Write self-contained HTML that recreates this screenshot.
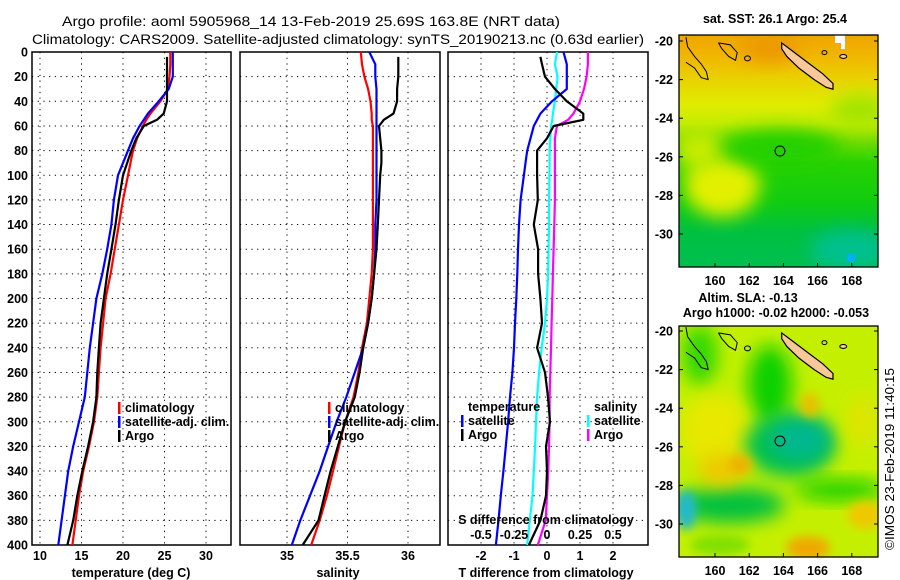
<!DOCTYPE html>
<html><head><meta charset="utf-8">
<style>
html,body{margin:0;padding:0;background:#fff;}
svg{display:block;font-family:"Liberation Sans",sans-serif;}
.tk{font-size:12.5px;font-weight:bold;fill:#000;}
.ttl{font-size:13.5px;fill:#000;}
.lg{font-size:12.5px;font-weight:bold;fill:#000;}
.grid{stroke:#000;stroke-width:1;stroke-dasharray:1.2 4.5;}
</style></head>
<body>
<svg id="chart" width="900" height="580" viewBox="0 0 900 580">
  <text class="ttl" x="62" y="26" textLength="498" lengthAdjust="spacingAndGlyphs">Argo profile: aoml 5905968_14 13-Feb-2019 25.69S 163.8E (NRT data)</text>
  <text class="ttl" x="32" y="44" textLength="612" lengthAdjust="spacingAndGlyphs">Climatology: CARS2009. Satellite-adjusted climatology: synTS_20190213.nc (0.63d earlier)</text>

  <g id="maps">
    <defs>
      <clipPath id="clip1"><rect x="679" y="35" width="199" height="232"/></clipPath>
      <clipPath id="clip2"><rect x="679" y="326" width="199" height="231"/></clipPath>
      <filter id="blur8" x="-50%" y="-50%" width="200%" height="200%"><feGaussianBlur stdDeviation="9"/></filter>
      <filter id="blur4" x="-50%" y="-50%" width="200%" height="200%"><feGaussianBlur stdDeviation="5"/></filter>
      <linearGradient id="sstg" x1="0" y1="0" x2="0" y2="1">
        <stop offset="0" stop-color="#f0a400"/>
        <stop offset="0.1" stop-color="#f0b800"/>
        <stop offset="0.2" stop-color="#e8d400"/>
        <stop offset="0.3" stop-color="#e0ec00"/>
        <stop offset="0.38" stop-color="#c4ec00"/>
        <stop offset="0.46" stop-color="#70dc00"/>
        <stop offset="0.55" stop-color="#28d200"/>
        <stop offset="0.72" stop-color="#10cc10"/>
        <stop offset="0.85" stop-color="#00c040"/>
        <stop offset="1" stop-color="#00bf50"/>
      </linearGradient>
    </defs>
    <g clip-path="url(#clip1)">
      <rect x="679" y="35" width="199" height="232" fill="url(#sstg)"/>
      <ellipse cx="722" cy="185" rx="38" ry="32" fill="#e2f000" filter="url(#blur8)"/>
      <ellipse cx="700" cy="150" rx="25" ry="20" fill="#c8ec00" filter="url(#blur8)"/>
      <ellipse cx="780" cy="148" rx="60" ry="18" fill="#20d000" filter="url(#blur8)"/>
      <ellipse cx="860" cy="110" rx="30" ry="15" fill="#a0e400" filter="url(#blur8)"/>
      <ellipse cx="770" cy="48" rx="30" ry="14" fill="#ec9800" filter="url(#blur8)"/>
      <ellipse cx="850" cy="250" rx="40" ry="20" fill="#00c090" filter="url(#blur8)"/>
      <rect x="847" y="254" width="8" height="8" fill="#00b0f0"/>
      <rect x="835" y="35" width="10" height="8" fill="#fff"/>
      <rect x="841" y="35" width="4" height="14" fill="#fff"/>
    </g>
    <g clip-path="url(#clip2)">
      <rect x="679" y="326" width="199" height="231" fill="#c4f000"/>
      <ellipse cx="770" cy="385" rx="22" ry="40" fill="#10d000" filter="url(#blur8)"/>
      <ellipse cx="700" cy="355" rx="18" ry="30" fill="#30d800" filter="url(#blur8)"/>
      <ellipse cx="715" cy="430" rx="35" ry="35" fill="#e8e800" filter="url(#blur8)"/>
      <ellipse cx="790" cy="445" rx="45" ry="32" fill="#00c050" filter="url(#blur8)"/>
      <ellipse cx="800" cy="440" rx="30" ry="20" fill="#00b890" filter="url(#blur8)"/>
      <ellipse cx="730" cy="505" rx="55" ry="18" fill="#00c040" filter="url(#blur8)"/>
      <ellipse cx="686" cy="510" rx="10" ry="20" fill="#20b8d0" filter="url(#blur4)"/>
      <ellipse cx="840" cy="490" rx="45" ry="10" fill="#10d000" filter="url(#blur8)"/>
      <ellipse cx="862" cy="420" rx="14" ry="26" fill="#e0e400" filter="url(#blur8)"/>
      <ellipse cx="720" cy="470" rx="22" ry="16" fill="#f0c800" filter="url(#blur8)"/>
      <ellipse cx="740" cy="465" rx="12" ry="10" fill="#f0b000" filter="url(#blur4)"/>
      <ellipse cx="808" cy="548" rx="22" ry="12" fill="#f0a800" filter="url(#blur4)"/>
      <ellipse cx="810" cy="405" rx="10" ry="12" fill="#e8c000" filter="url(#blur4)"/>
      <ellipse cx="865" cy="515" rx="18" ry="14" fill="#f0c800" filter="url(#blur4)"/>
      <ellipse cx="720" cy="545" rx="30" ry="10" fill="#80e000" filter="url(#blur4)"/>
    </g>
    <g id="coasts"></g>
    <rect x="679" y="35" width="199" height="232" fill="none" stroke="#000" stroke-width="1.3"/>
    <rect x="679" y="326" width="199" height="231" fill="none" stroke="#000" stroke-width="1.3"/>
    <text class="tk" x="775" y="23" text-anchor="middle">sat. SST: 26.1 Argo: 25.4</text>
    <text class="tk" x="748" y="302" text-anchor="middle">Altim. SLA: -0.13</text>
    <text class="tk" x="776" y="317" text-anchor="middle">Argo h1000: -0.02 h2000: -0.053</text>
    <text class="tk" transform="translate(894,550) rotate(-90)" style="font-weight:normal" textLength="182" lengthAdjust="spacingAndGlyphs">©IMOS 23-Feb-2019 11:40:15</text>
  </g>

  <g id="panels"></g>
</svg>
<script>
// ---------- data ----------
const depths = [0,10,20,30,40,50,55,60,70,80,90,100,120,140,160,180,200,220,240,260,280,300,320,340,360,380,400];
const tempClim = [25.7,25.7,25.6,25.4,24.5,23.3,22.8,22.4,21.7,21.2,20.9,20.6,20.0,19.5,19.0,18.5,17.9,17.6,17.3,17.1,16.9,16.5,15.9,15.2,14.7,14.3,13.9];
const tempSat  = [26.0,26.0,26.0,25.5,24.3,23.0,22.5,22.0,21.2,20.6,20.0,19.4,18.9,18.6,18.1,17.5,16.8,16.4,16.0,15.7,15.4,14.7,14.0,13.4,13.0,12.6,12.2];
const tempArgo = [25.3,25.3,25.3,25.3,25.3,24.9,24.1,22.5,21.6,21.0,20.5,20.0,19.5,19.1,18.6,18.1,17.7,17.3,17.1,16.9,16.8,16.4,15.8,15.1,14.5,14.0,13.3];
const salClim = [35.61,35.62,35.64,35.67,35.69,35.70,35.70,35.71,35.71,35.71,35.71,35.71,35.71,35.71,35.71,35.70,35.68,35.66,35.62,35.59,35.55,35.48,35.43,35.38,35.33,35.27,35.20];
const salSat  = [35.68,35.73,35.73,35.74,35.74,35.74,35.74,35.74,35.74,35.74,35.74,35.74,35.74,35.73,35.73,35.72,35.70,35.67,35.63,35.56,35.49,35.41,35.34,35.27,35.19,35.11,35.04];
const salArgo = [35.92,35.92,35.92,35.91,35.91,35.88,35.80,35.76,35.77,35.78,35.78,35.77,35.76,35.75,35.74,35.72,35.70,35.67,35.63,35.60,35.56,35.48,35.42,35.36,35.31,35.26,35.13];
const tDiffSat  = [0.5,0.6,0.6,0.6,0.15,-0.2,-0.3,-0.4,-0.5,-0.6,-0.65,-0.7,-0.8,-0.85,-0.88,-0.9,-0.93,-0.97,-1.0,-1.05,-1.12,-1.18,-1.25,-1.32,-1.4,-1.47,-1.55];
const tDiffArgo = [-0.2,-0.15,-0.06,0.24,0.6,1.1,1.1,0.2,0.0,-0.3,-0.3,-0.3,-0.28,-0.4,-0.27,-0.27,-0.2,-0.15,-0.3,-0.06,0.03,0.09,-0.03,0.0,-0.03,-0.2,-0.55];
const sDiffSat  = [0.076,0.06,0.08,0.07,0.06,0.045,0.04,0.03,0.025,0.02,0.02,0.018,0.016,0.015,0.012,0.008,0,-0.015,-0.04,-0.06,-0.075,-0.083,-0.09,-0.1,-0.11,-0.13,-0.15];
const sDiffArgo = [0.31,0.31,0.3,0.28,0.25,0.2,0.16,0.075,0.06,0.06,0.06,0.06,0.06,0.055,0.05,0.045,0.04,0.035,0.03,0.025,0.02,0.02,0.015,0.01,0.0,-0.01,-0.07];
const depthTicks = [0,20,40,60,80,100,120,140,160,180,200,220,240,260,280,300,320,340,360,380,400];
const tempTicks = [10,15,20,25,30];
const salTicks = [35,35.5,36];
const salTickLabels = ["35","35.5","36"];
const tDiffTicks = [-2,-1,0,1,2];
const sDiffTicks = [-0.5,-0.25,0,0.25,0.5];
const sDiffTickLabels = ["-0.5","-0.25","0","0.25","0.5"];
const mapLatTicks = [-20,-22,-24,-26,-28,-30];
const mapLonTicks = [160,162,164,166,168];

// ---------- scales ----------
const NS='http://www.w3.org/2000/svg';
const Y0=52, Y1=545;
const yD = d => Y0 + d*(Y1-Y0)/400;
const xT = t => 40 + (t-10)*8.3;
const xS = s => 287 + (s-35)*121;
const xTD = v => 547 + v*33;
const xSD = v => 547 + v*132;

function mk(tag, attrs, parent){
  const e=document.createElementNS(NS,tag);
  for(const k in attrs) e.setAttribute(k,attrs[k]);
  parent.appendChild(e); return e;
}
const root=document.getElementById('panels');

function panel(x0,x1,name,xticks,xfn,labels,showY){
  const g=mk('g',{},root);
  
  
  depthTicks.forEach(d=>{ if(d>0&&d<400) mk('line',{x1:x0,x2:x1,y1:yD(d),y2:yD(d),class:'grid'},g); });
  xticks.forEach(v=>{ mk('line',{x1:xfn(v),x2:xfn(v),y1:Y0,y2:Y1,class:'grid'},g); });
  mk('rect',{x:x0,y:Y0,width:x1-x0,height:Y1-Y0,fill:'none',stroke:'#000','stroke-width':1.5},g);
  xticks.forEach((v,i)=>{
    const t=mk('text',{x:xfn(v),y:560,'text-anchor':'middle',class:'tk'},g);
    t.textContent=labels[i];
    
    
  });
  if(showY){
    depthTicks.forEach(d=>{
      const t=mk('text',{x:28,y:yD(d)+4.5,'text-anchor':'end',class:'tk'},g);
      t.textContent=d;
      
      
    });
  }
  return g;
}
function line(g,vals,xfn,color,name,start){
  let pts=[];
  depths.forEach((d,i)=>{ const dd=(i===0&&start!==undefined)?start:d; pts.push(xfn(vals[i]).toFixed(1)+','+yD(dd).toFixed(1)); });
  const p=mk('polyline',{points:pts.join(' '),fill:'none',stroke:color,'stroke-width':2.2,'stroke-linejoin':'round'},g);
  
  
}
function legend(g,x,y,color,label,name){
  if(color) mk('rect',{x:x,y:y-10,width:2.5,height:12,fill:color},g);
  const t=mk('text',{x:x+7,y:y,class:'lg'},g);
  t.textContent=label;
  
  
}
function title(g,x,y,txt,name){
  const t=mk('text',{x:x,y:y,'text-anchor':'middle',class:'tk'},g);
  t.textContent=txt;
  
  
}

// panel 1: temperature
const p1=panel(32,231,'temperature-panel',tempTicks,xT,tempTicks.map(String),true);
line(p1,tempClim,xT,'#ff0000','temperature-climatology-line');
line(p1,tempSat,xT,'#0000ff','temperature-satellite-line');
line(p1,tempArgo,xT,'#000000','temperature-argo-line',4);
legend(p1,118,412,'#ff0000','climatology','legend-climatology');
legend(p1,118,426,'#0000ff','satellite-adj. clim.','legend-satellite-adj');
legend(p1,118,440,'#000000','Argo','legend-argo');
title(p1,131,577,'temperature (deg C)','x-axis-title-temperature');

// panel 2: salinity
const p2=panel(240,440,'salinity-panel',salTicks,xS,salTickLabels,false);
line(p2,salClim,xS,'#ff0000','salinity-climatology-line');
line(p2,salSat,xS,'#0000ff','salinity-satellite-line');
line(p2,salArgo,xS,'#000000','salinity-argo-line',4);
legend(p2,328,412,'#ff0000','climatology','legend-climatology-sal');
legend(p2,328,426,'#0000ff','satellite-adj. clim.','legend-satellite-adj-sal');
legend(p2,328,440,'#000000','Argo','legend-argo-sal');
title(p2,338,577,'salinity','x-axis-title-salinity');

// panel 3: differences
const p3=panel(448,648,'difference-panel',tDiffTicks,xTD,tDiffTicks.map(String),false);
line(p3,sDiffSat,xSD,'#00ffff','salinity-diff-satellite-line');
line(p3,sDiffArgo,xSD,'#ff00ff','salinity-diff-argo-line');
line(p3,tDiffSat,xTD,'#0000ff','temperature-diff-satellite-line');
line(p3,tDiffArgo,xTD,'#000000','temperature-diff-argo-line',4);
legend(p3,461,411,null,'temperature','legend-temperature-header');
legend(p3,461,425,'#0000ff','satellite','legend-temp-satellite');
legend(p3,461,439,'#000000','Argo','legend-temp-argo');
legend(p3,587,411,null,'salinity','legend-salinity-header');
legend(p3,587,425,'#00ffff','satellite','legend-sal-satellite');
legend(p3,587,439,'#ff00ff','Argo','legend-sal-argo');
title(p3,546,524,'S difference from climatology','s-diff-axis-title');
sDiffTicks.forEach((v,i)=>{
  const t=mk('text',{x:xSD(v),y:539,'text-anchor':'middle',class:'tk'},p3);
  t.textContent=sDiffTickLabels[i];
  
  
});
title(p3,546,577,'T difference from climatology','x-axis-title-t-diff');

// ---------- maps ----------
const coast=document.getElementById('coasts');
const mx = lon => 715 + (lon-160)*17.1;
const my1 = lat => 41 + (-20-lat)*19.3;
const my2 = lat => 331 + (-20-lat)*19.3;
const newCal = [[163.9,-20.1],[164.5,-20.5],[165.4,-21.1],[166.3,-21.7],[166.9,-22.2],[166.9,-22.5],[166.5,-22.4],[165.8,-22.0],[164.9,-21.4],[164.2,-20.8],[163.9,-20.4]];
const auLine = [[158.3,-19.8],[158.4,-20.3],[158.8,-20.8],[159.2,-21.2],[159.5,-21.6],[159.6,-22.0],[159.2,-21.9],[158.8,-21.4],[158.3,-21.1]];
const reefLine = [[160.2,-20.1],[160.9,-20.2],[161.3,-20.6],[161.2,-21.0],[160.8,-20.8],[160.4,-20.4],[160.2,-20.1]];
[[my1,'sst'],[my2,'sla']].forEach(([my,nm])=>{
  const g=mk('g',{},coast);
  
  
  mk('polygon',{points:newCal.map(p=>mx(p[0])+','+my(p[1])).join(' '),fill:'#f8c898',stroke:'#000','stroke-width':1.2},g);
  mk('polyline',{points:auLine.map(p=>mx(p[0])+','+my(p[1])).join(' '),fill:'none',stroke:'#000','stroke-width':1},g);
  mk('polyline',{points:reefLine.map(p=>mx(p[0])+','+my(p[1])).join(' '),fill:'none',stroke:'#000','stroke-width':1},g);
  mk('ellipse',{cx:mx(161.9),cy:my(-20.9),rx:3,ry:2.5,fill:'none',stroke:'#000'},g);
  mk('ellipse',{cx:mx(167.5),cy:my(-20.8),rx:3.5,ry:2,fill:'#f8c898',stroke:'#000'},g);
  mk('ellipse',{cx:mx(166.4),cy:my(-20.6),rx:2.5,ry:2,fill:'none',stroke:'#000'},g);
  const c=mk('circle',{cx:mx(163.8),cy:my(-25.7),r:5,fill:'none',stroke:'#000','stroke-width':1},g);
  
  
  mapLatTicks.forEach(lat=>{
    mk('line',{x1:679,x2:683,y1:my(lat),y2:my(lat),stroke:'#000'},g);
    mk('line',{x1:874,x2:878,y1:my(lat),y2:my(lat),stroke:'#000'},g);
    const t=mk('text',{x:673,y:my(lat)+4.5,'text-anchor':'end',class:'tk'},g);
    t.textContent=lat;
    
    
  });
  const yb = nm==='sst'?267:557;
  mapLonTicks.forEach(lon=>{
    mk('line',{x1:mx(lon),x2:mx(lon),y1:yb-4,y2:yb,stroke:'#000'},g);
    const t=mk('text',{x:mx(lon),y:yb+18,'text-anchor':'middle',class:'tk'},g);
    t.textContent=lon;
    
    
  });
});
</script>
</body></html>
